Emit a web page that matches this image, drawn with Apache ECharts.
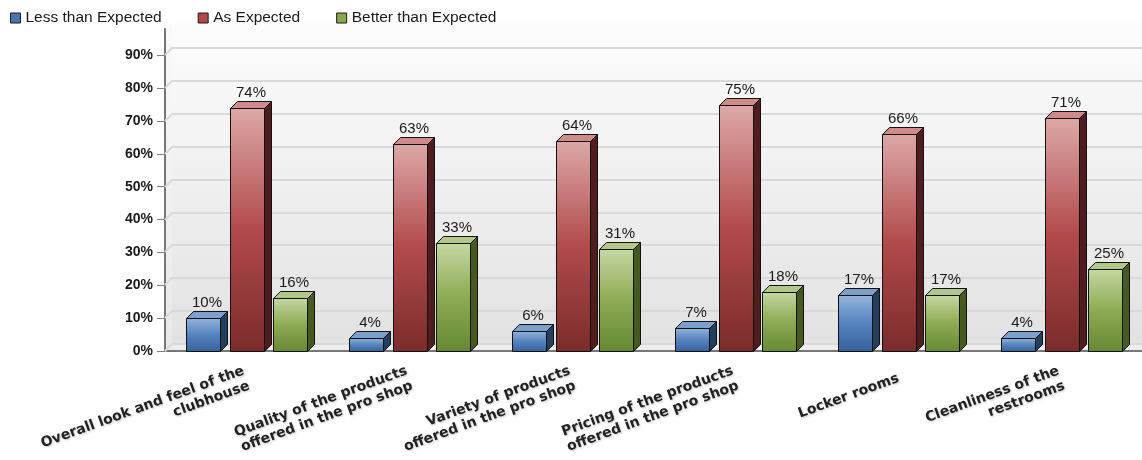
<!DOCTYPE html>
<html>
<head>
<meta charset="utf-8">
<script src="https://cdn.jsdelivr.net/npm/echarts@6/dist/echarts.min.js"></script>
<style>html,body{margin:0;padding:0;background:#fff}#c{width:1142px;height:460px}</style>
</head>
<body>
<div id="c"></div>
<script>
const categories = [
  'Overall look and feel of the\nclubhouse',
  'Quality of the products\noffered in the pro shop',
  'Variety of products\noffered in the pro shop',
  'Pricing of the products\noffered in the pro shop',
  'Locker rooms',
  'Cleanliness of the\nrestrooms'
];
const seriesNames = ['Less than Expected', 'As Expected', 'Better than Expected'];
const lessThanExpected = [10, 4, 6, 7, 17, 4];
const asExpected = [74, 63, 64, 75, 66, 71];
const betterThanExpected = [16, 33, 31, 18, 17, 25];
const yTicks = [0, 10, 20, 30, 40, 50, 60, 70, 80, 90];

const DEPTH = 7;
const palettes = [
  {front: ['#93b4dc', '#5683bd', '#34629c'], top: '#7c9fcc', side: '#233f5e', legend: '#4a76b0'},
  {front: ['#dda8a8', '#b24a4a', '#7a2b2b'], top: '#cf8a8a', side: '#4f1d1d', legend: '#b04848'},
  {front: ['#c5d8a3', '#8dab52', '#688734'], top: '#b2c889', side: '#46591f', legend: '#8aa84e'}
];

function barRenderer(si) {
  return function (params, api) {
    const ci = api.value(0), v = api.value(1);
    const band = api.size([1, 0])[0];
    const bw = Math.round(band * 0.21);
    const c0 = api.coord([ci, 0]);
    const c1 = api.coord([ci, v]);
    const cx = c0[0] + (si - 1) * band * 0.264;
    const d = DEPTH;
    const x = Math.round(cx - bw / 2) + 0.5;
    const yb = Math.round(c0[1]) + 0.5;
    const yt = Math.round(c1[1]) + 0.5;
    const p = palettes[si];
    const stroke = '#111';
    return {
      type: 'group',
      children: [
        {type: 'polygon', shape: {points: [[x + bw, yb], [x + bw, yt], [x + bw + d, yt - d], [x + bw + d, yb - d]]},
          style: {fill: p.side, stroke: stroke, lineWidth: 1}},
        {type: 'polygon', shape: {points: [[x, yt], [x + d, yt - d], [x + bw + d, yt - d], [x + bw, yt]]},
          style: {fill: p.top, stroke: stroke, lineWidth: 1}},
        {type: 'rect', shape: {x: x, y: yt, width: bw, height: yb - yt},
          style: {fill: {type: 'linear', x: 0, y: 0, x2: 0, y2: 1, colorStops: [
            {offset: 0, color: p.front[0]}, {offset: 0.5, color: p.front[1]}, {offset: 1, color: p.front[2]}]},
            stroke: stroke, lineWidth: 1}},
        {type: 'text', style: {text: v + '%', x: x + bw / 2 + d / 2, y: yt - d - 1, align: 'center', verticalAlign: 'bottom',
          fontSize: 15, fontFamily: 'Liberation Sans', fill: '#1a1a1a'}}
      ]
    };
  };
}

function frameRenderer(params, api) {
  const cs = params.coordSys;
  const x = cs.x, y = cs.y, w = cs.width, h = cs.height, d = DEPTH;
  const yb = y + h;
  return {
    type: 'group',
    children: [
      {type: 'rect', shape: {x: x + d, y: y - d, width: w - d, height: h},
        style: {fill: {type: 'linear', x: 0, y: 0, x2: 0, y2: 1, colorStops: [
          {offset: 0, color: '#fdfdfd'}, {offset: 1, color: '#e2e2e2'}]}}},
      {type: 'polygon', shape: {points: [[x, yb], [x, y], [x + d, y - d], [x + d, yb - d]]},
        style: {fill: {type: 'linear', x: 0, y: 0, x2: 0, y2: 1, colorStops: [
          {offset: 0, color: '#fafafa'}, {offset: 1, color: '#e8e8e8'}]}}},
      {type: 'polygon', shape: {points: [[x, yb], [x + d, yb - d], [x + w, yb - d], [x + w, yb]]},
        style: {fill: '#ededed', stroke: '#b8b8b8', lineWidth: 1}}
    ]
  };
}

function gridRenderer(params, api) {
  const cs = params.coordSys;
  const x = cs.x, w = cs.width, d = DEPTH;
  const yy = Math.round(api.coord([0, api.value(1)])[1]) - d;
  return {
    type: 'polyline',
    shape: {points: [[x, yy + d], [x + d, yy], [x + w, yy]]},
    style: {fill: null, stroke: '#d9d9d9', lineWidth: 2}
  };
}

const seriesData = [lessThanExpected, asExpected, betterThanExpected];

const option = {
  animation: false,
  color: palettes.map(p => p.legend),
  legend: {
    data: seriesNames,
    left: 10, top: 10, padding: 0,
    icon: 'rect', itemWidth: 10, itemHeight: 10, itemGap: 36,
    itemStyle: {borderColor: '#1a1a1a', borderWidth: 1},
    textStyle: {fontSize: 15.5, fontFamily: 'Liberation Sans', color: '#1a1a1a'}
  },
  grid: {left: 165, width: 978, top: 29, bottom: 109, outerBoundsMode: 'none', containLabel: false},
  xAxis: {
    type: 'category', data: categories,
    axisLine: {lineStyle: {color: '#767676', width: 2}},
    axisTick: {alignWithLabel: true, length: 5, lineStyle: {color: '#808080'}},
    axisLabel: {interval: 0, rotate: 20, margin: 27, fontWeight: 'bold', fontSize: 14, lineHeight: 16,
      fontFamily: 'DejaVu Sans', color: '#222',
      textShadowColor: 'rgba(0,0,0,0.22)', textShadowBlur: 2, textShadowOffsetX: 1, textShadowOffsetY: 1}
  },
  yAxis: {
    type: 'value', min: 0, max: 98, interval: 10,
    axisLine: {show: true, lineStyle: {color: '#767676', width: 2}},
    axisTick: {show: true, length: 8, customValues: yTicks, lineStyle: {color: '#808080'}},
    axisLabel: {customValues: yTicks, formatter: '{value}%', margin: 12, fontWeight: 'bold', fontSize: 14,
      fontFamily: 'Liberation Sans', color: '#1a1a1a'},
    splitLine: {show: false}
  },
  series: [
    {type: 'custom', name: 'frame', renderItem: frameRenderer, data: [[0, 0]], z: 0, silent: true},
    {type: 'custom', name: 'grid', renderItem: gridRenderer, data: yTicks.map(v => [0, v]), z: 1, silent: true}
  ].concat(seriesData.map((arr, si) => ({
    type: 'custom', name: seriesNames[si], z: 3,
    itemStyle: {color: palettes[si].legend},
    renderItem: barRenderer(si),
    encode: {x: 0, y: 1},
    data: arr.map((v, i) => [i, v])
  })))
};

const chart = echarts.init(document.getElementById('c'), null, {renderer: 'canvas'});
chart.setOption(option);
</script>
</body>
</html>
